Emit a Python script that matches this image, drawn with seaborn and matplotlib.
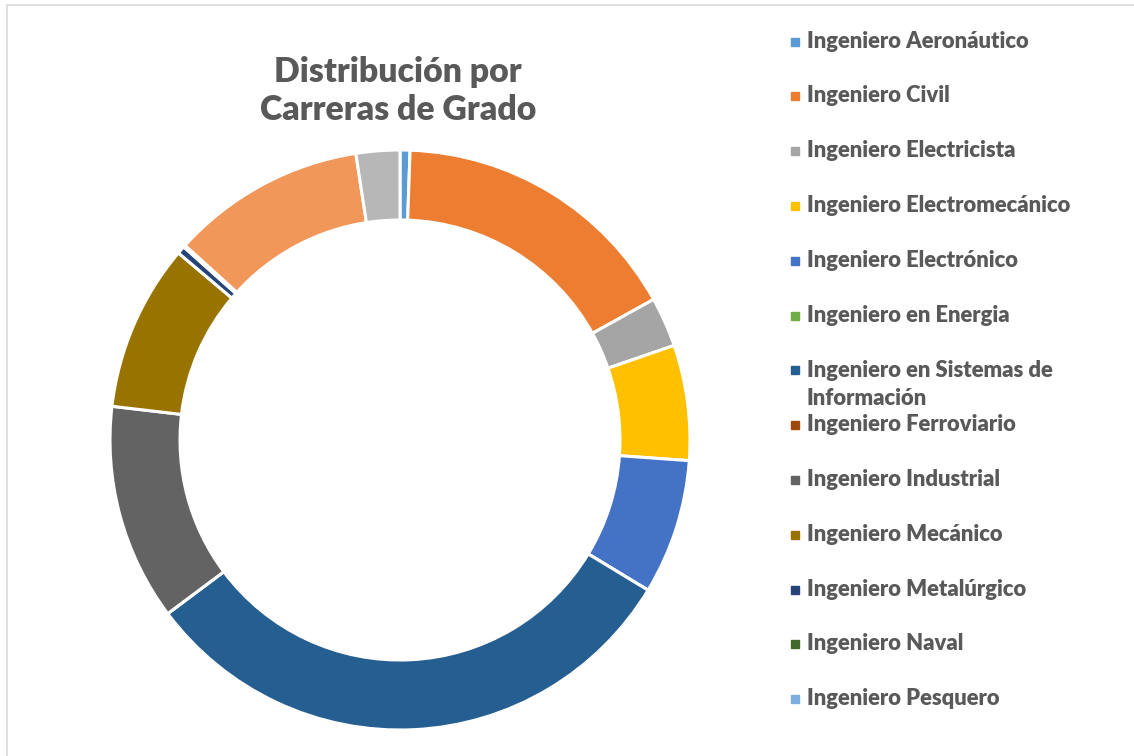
import matplotlib
matplotlib.use("Agg")
import matplotlib.pyplot as plt
import seaborn as sns
from matplotlib.lines import Line2D
from matplotlib.patches import Rectangle

# careers in chart order (clockwise from 12 o'clock)
careers = [
    "Ingeniero Aeronáutico",
    "Ingeniero Civil",
    "Ingeniero Electricista",
    "Ingeniero Electromecánico",
    "Ingeniero Electrónico",
    "Ingeniero en Energia",
    "Ingeniero en Sistemas de\nInformación",
    "Ingeniero Ferroviario",
    "Ingeniero Industrial",
    "Ingeniero Mecánico",
    "Ingeniero Metalúrgico",
    "Ingeniero Naval",
    "Ingeniero Pesquero",
    "Ingeniero Químico",
    "Ingeniero Textil",
]
# estimated counts
counts = [5, 148, 25, 58, 68, 0, 281, 0, 109, 84, 4, 1, 0, 98, 22]
# only the first 13 entries fit in the legend box
n_legend = 13

colors = [
    "#5B9BD5", "#ED7D31", "#A5A5A5", "#FFC000", "#4472C4", "#70AD47",
    "#255E91", "#9E480E", "#636363", "#997300", "#264478", "#43682B",
    "#7CAFDD", "#F1975A", "#B7B7B7",
]

sns.set_theme(style="white")
plt.rcParams["font.family"] = ["Lato", "DejaVu Sans"]
text_color = "#595959"

W, H = 1134, 756
fig = plt.figure(figsize=(W / 100, H / 100), dpi=100)

# donut centred at (400, 440) px, outer radius 290 px
cx, cy, r_px, box = 400, 440, 290, 600
ax = fig.add_axes([(cx - box / 2) / W, (H - cy - box / 2) / H, box / W, box / H])
ax.pie(
    counts,
    colors=colors,
    startangle=90,
    counterclock=False,
    radius=1.0,
    wedgeprops=dict(width=70 / r_px, edgecolor="white", linewidth=2.2),
)
lim = (box / 2) / r_px
ax.set_xlim(-lim, lim)
ax.set_ylim(-lim, lim)
ax.set_aspect("equal")
ax.axis("off")

fig.text(398 / W, 1 - 91 / H, "Distribución por\nCarreras de Grado",
         ha="center", va="center", fontsize=24.3, fontweight="heavy",
         color=text_color, linespacing=1.25)

# legend
y = 41
for name, col in list(zip(careers, colors))[:n_legend]:
    fig.patches.append(Rectangle((791 / W, 1 - (y + 4.5) / H), 8 / W, 8 / H,
                                 transform=fig.transFigure, color=col))
    if "\n" in name:
        fig.text(807 / W, 1 - (y - 10) / H, name, ha="left", va="top",
                 fontsize=15.8, fontweight="heavy", color=text_color,
                 linespacing=1.45)
    else:
        fig.text(807 / W, 1 - y / H, name, ha="left", va="center",
                 fontsize=15.8, fontweight="heavy", color=text_color)
    y += 54.8

# frame lines (chart area border, cropped)
fig.add_artist(Line2D([7 / W, 1], [1 - 5 / H, 1 - 5 / H], color="#D9D9D9", lw=1.2))
fig.add_artist(Line2D([7 / W, 7 / W], [0, 1 - 5 / H], color="#D9D9D9", lw=1.2))

fig.savefig("out.png", dpi=100, facecolor="white")
